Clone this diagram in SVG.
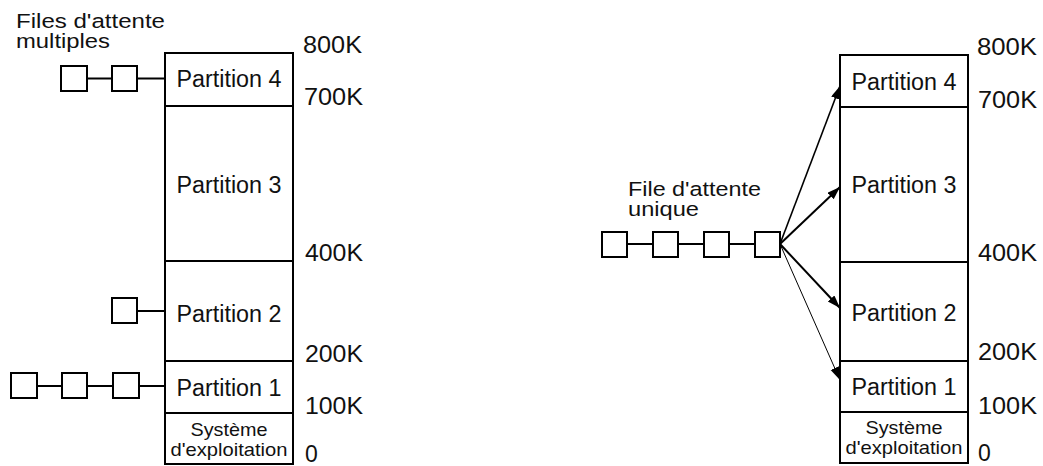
<svg xmlns="http://www.w3.org/2000/svg" width="1043" height="466" viewBox="0 0 1043 466">
<style>
  .bx{fill:#fff;stroke:#000;stroke-width:2}
  .sq{fill:#fff;stroke:#000;stroke-width:2}
  .ln{stroke:#000;stroke-width:2;fill:none}
  .t{font-family:"Liberation Sans",Arial,sans-serif;font-size:23px;fill:#111}
  .h{font-family:"Liberation Sans",Arial,sans-serif;font-size:20.5px;fill:#111}
  .p{font-family:"Liberation Sans",Arial,sans-serif;font-size:23px;fill:#111;text-anchor:middle}
  .os{font-family:"Liberation Sans",Arial,sans-serif;font-size:18.5px;fill:#111;text-anchor:middle}
  .ar{stroke:#000;fill:none;marker-end:url(#ah)}
</style>
<defs>
  <marker id="ah" markerUnits="userSpaceOnUse" markerWidth="14" markerHeight="10" refX="13" refY="4.5" orient="auto">
    <path d="M0,0 L13,4.5 L0,9 z" fill="#000"/>
  </marker>
</defs>
<rect width="1043" height="466" fill="#fff"/>

<!-- Left memory -->
<g id="left-memory">
  <g id="L-p4"><rect class="bx" x="165" y="53" width="128" height="53"/><text class="p" x="229" y="87" textLength="105" lengthAdjust="spacingAndGlyphs">Partition 4</text></g>
  <g id="L-p3"><rect class="bx" x="165" y="106" width="128" height="155"/><text class="p" x="229" y="193" textLength="105" lengthAdjust="spacingAndGlyphs">Partition 3</text></g>
  <g id="L-p2"><rect class="bx" x="165" y="261" width="128" height="100"/><text class="p" x="229" y="322" textLength="105" lengthAdjust="spacingAndGlyphs">Partition 2</text></g>
  <g id="L-p1"><rect class="bx" x="165" y="361" width="128" height="52"/><text class="p" x="229" y="396" textLength="105" lengthAdjust="spacingAndGlyphs">Partition 1</text></g>
  <g id="L-os"><rect class="bx" x="165" y="413" width="128" height="51"/><text class="os" x="229" y="436" textLength="77" lengthAdjust="spacingAndGlyphs">Système</text><text class="os" x="229" y="456" textLength="117" lengthAdjust="spacingAndGlyphs">d'exploitation</text></g>
</g>
<g id="left-labels">
  <text class="t" x="303" y="53" textLength="59" lengthAdjust="spacingAndGlyphs">800K</text>
  <text class="t" x="304" y="105" textLength="59" lengthAdjust="spacingAndGlyphs">700K</text>
  <text class="t" x="305" y="261" textLength="58" lengthAdjust="spacingAndGlyphs">400K</text>
  <text class="t" x="305" y="362" textLength="58" lengthAdjust="spacingAndGlyphs">200K</text>
  <text class="t" x="305" y="414" textLength="58" lengthAdjust="spacingAndGlyphs">100K</text>
  <text class="t" x="305" y="462">0</text>
  <text class="h" x="16" y="27.5" textLength="149" lengthAdjust="spacingAndGlyphs">Files d'attente</text>
  <text class="h" x="16" y="48" textLength="94" lengthAdjust="spacingAndGlyphs">multiples</text>
</g>

<!-- Left queues -->
<g id="L-q4"><rect class="sq" x="61" y="66" width="26" height="25"/><rect class="sq" x="112" y="66" width="25" height="25"/></g>
<g id="L-q2"><rect class="sq" x="112" y="298" width="25" height="25"/></g>
<g id="L-q1"><rect class="sq" x="11" y="373" width="26" height="25"/><rect class="sq" x="62" y="373" width="25" height="25"/><rect class="sq" x="113" y="373" width="26" height="25"/></g>

<!-- Right memory -->
<g id="right-memory">
  <g id="R-p4"><rect class="bx" x="840" y="55" width="128" height="52"/><text class="p" x="904" y="90" textLength="105" lengthAdjust="spacingAndGlyphs">Partition 4</text></g>
  <g id="R-p3"><rect class="bx" x="840" y="107" width="128" height="155"/><text class="p" x="904" y="193" textLength="105" lengthAdjust="spacingAndGlyphs">Partition 3</text></g>
  <g id="R-p2"><rect class="bx" x="840" y="262" width="128" height="99"/><text class="p" x="904" y="321" textLength="105" lengthAdjust="spacingAndGlyphs">Partition 2</text></g>
  <g id="R-p1"><rect class="bx" x="840" y="361" width="128" height="51"/><text class="p" x="904" y="395" textLength="105" lengthAdjust="spacingAndGlyphs">Partition 1</text></g>
  <g id="R-os"><rect class="bx" x="840" y="412" width="128" height="51"/><text class="os" x="904" y="434" textLength="77" lengthAdjust="spacingAndGlyphs">Système</text><text class="os" x="904" y="454" textLength="117" lengthAdjust="spacingAndGlyphs">d'exploitation</text></g>
</g>
<g id="right-labels">
  <text class="t" x="977" y="55" textLength="60" lengthAdjust="spacingAndGlyphs">800K</text>
  <text class="t" x="978" y="108" textLength="59" lengthAdjust="spacingAndGlyphs">700K</text>
  <text class="t" x="978" y="261" textLength="59" lengthAdjust="spacingAndGlyphs">400K</text>
  <text class="t" x="978" y="360" textLength="59" lengthAdjust="spacingAndGlyphs">200K</text>
  <text class="t" x="978" y="414" textLength="59" lengthAdjust="spacingAndGlyphs">100K</text>
  <text class="t" x="978" y="461">0</text>
  <text class="h" x="628" y="195.5" textLength="133" lengthAdjust="spacingAndGlyphs">File d'attente</text>
  <text class="h" x="628" y="216" textLength="71" lengthAdjust="spacingAndGlyphs">unique</text>
</g>

<!-- Right queue -->
<g id="R-q"><rect class="sq" x="602" y="232" width="25" height="25"/><rect class="sq" x="653" y="232" width="25" height="25"/><rect class="sq" x="704" y="232" width="25" height="25"/><rect class="sq" x="755" y="232" width="25" height="25"/></g>

<!-- Connectors -->
<g id="connectors">
  <line class="ln" x1="87" y1="78.5" x2="112" y2="78.5"/>
  <line class="ln" x1="137" y1="78.5" x2="165" y2="78.5"/>
  <line class="ln" x1="137" y1="311" x2="165" y2="311"/>
  <line class="ln" x1="37" y1="386" x2="62" y2="386"/>
  <line class="ln" x1="87" y1="386" x2="113" y2="386"/>
  <line class="ln" x1="139" y1="386" x2="165" y2="386"/>
  <line class="ln" x1="627" y1="244" x2="653" y2="244"/>
  <line class="ln" x1="678" y1="244" x2="704" y2="244"/>
  <line class="ln" x1="729" y1="244" x2="755" y2="244"/>
  <line class="ar" stroke-width="1.6" x1="780" y1="244" x2="840" y2="86"/>
  <line class="ar" stroke-width="2" x1="780" y1="244" x2="840" y2="187"/>
  <line class="ar" stroke-width="2" x1="780" y1="244" x2="840" y2="308"/>
  <line class="ar" stroke-width="1" x1="780" y1="244" x2="840" y2="380"/>
</g>
</svg>
